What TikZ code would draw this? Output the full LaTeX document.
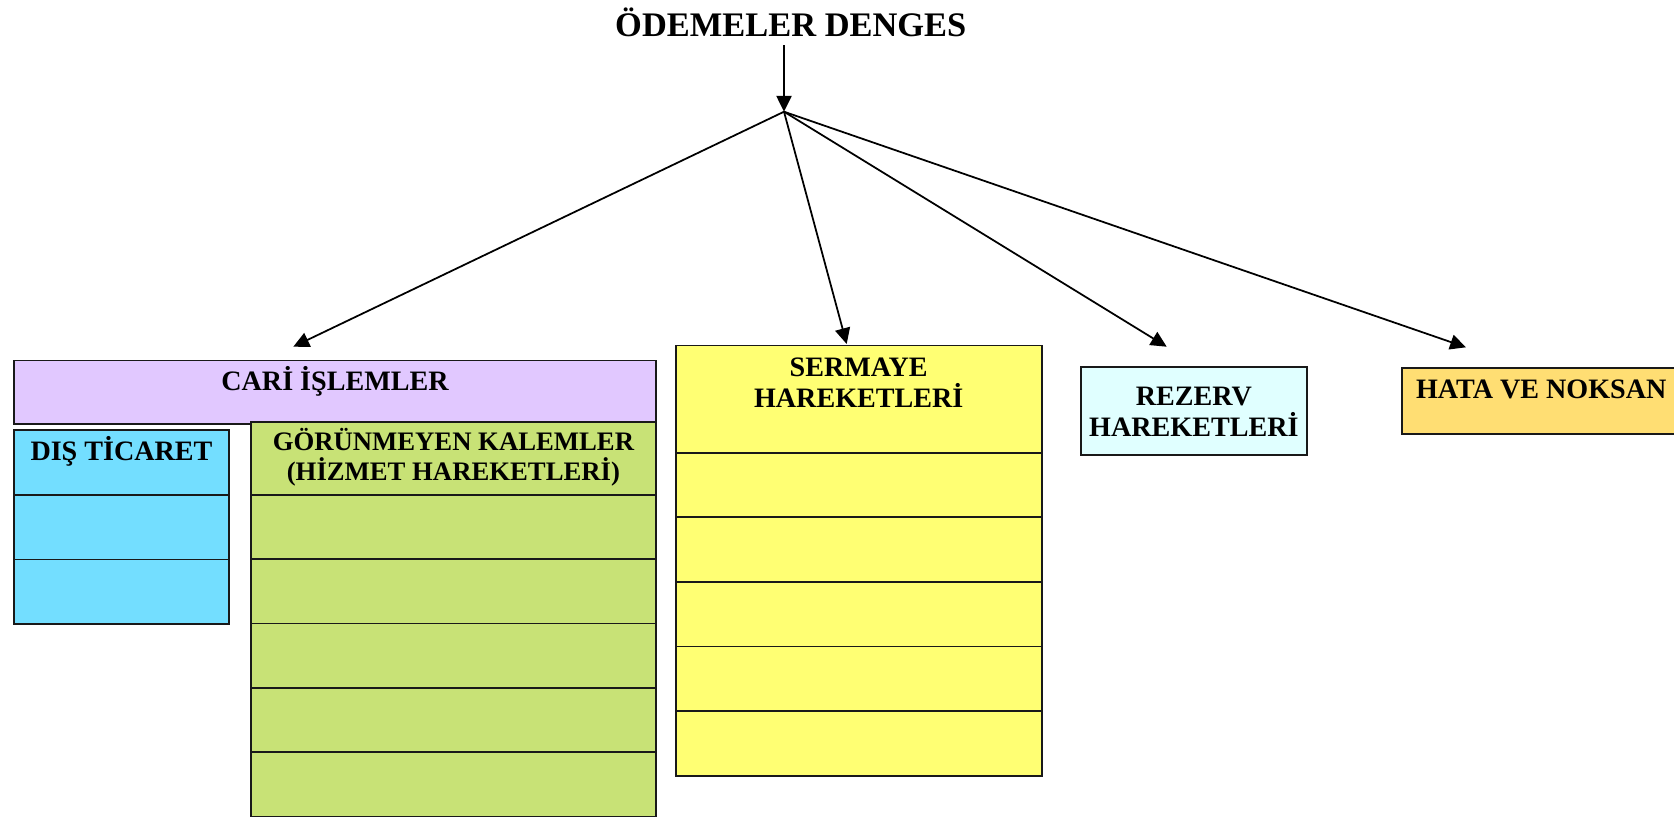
\documentclass[tikz,border=0pt]{standalone}
\usepackage{fontspec}
\setmainfont{Liberation Serif}
\usepackage{tikz}
\usetikzlibrary{arrows.meta,positioning}

\definecolor{cariC}{RGB}{225,200,255}
\definecolor{disC}{RGB}{115,222,255}
\definecolor{gorC}{RGB}{200,226,118}
\definecolor{serC}{RGB}{255,255,115}
\definecolor{rezC}{RGB}{224,255,255}
\definecolor{hataC}{RGB}{255,222,115}

\newcommand{\boxfont}{\fontsize{16}{17.5}\selectfont\bfseries}
\newcommand{\smallboxfont}{\fontsize{15.2}{17}\selectfont\bfseries}
\newcommand{\titlefont}{\fontsize{19.6}{22}\selectfont\bfseries}

\begin{document}
\begin{tikzpicture}[
  x=0.02cm, y=-0.02cm,
  cell/.style={draw=black!90, line width=1pt, inner sep=0pt, outer sep=0pt, anchor=north west},
  caricell/.style={cell, fill=cariC, minimum width=12.84cm, minimum height=1.27cm},
  discell/.style={cell, fill=disC, minimum width=4.294cm, minimum height=1.29cm},
  gorcell/.style={cell, fill=gorC, minimum width=8.106cm, minimum height=1.286cm},
  sercell/.style={cell, fill=serC, minimum width=7.32cm, minimum height=1.292cm},
  rezcell/.style={cell, fill=rezC, minimum width=4.514cm, minimum height=1.766cm},
  hatacell/.style={cell, fill=hataC, minimum width=5.966cm, minimum height=1.326cm},
  celltext/.style={font=\boxfont, align=center, inner sep=0pt, anchor=base},
  arr/.style={-{Triangle[length=9pt, width=8.6pt]}, line width=1pt},
  node distance=0pt,
]
\useasboundingbox (0,0) rectangle (1674,816);
\clip (0,0) rectangle (1674,816);

% ===== Title and branching =====
\node[font=\titlefont, inner sep=0pt, anchor=base] (odeme) at (790.8,36) {ÖDEMELER DENGES};
\coordinate (hub) at (784,111.7);
\coordinate (cariIn) at (293.3,346.7);
\coordinate (serIn) at (846.7,344);
\coordinate (rezIn) at (1166.7,346.7);
\coordinate (hataIn) at (1466,347.3);

% ===== CARI ISLEMLER =====
\node[caricell] (cari) at (14,360.5) {};
\node[celltext] (cariT) at (335,390) {CARİ İŞLEMLER};

\node[discell, minimum height=1.3cm] (dis0) at (14,430) {};
\node[discell, below=of dis0] (dis1) {};
\node[discell, below=of dis1] (dis2) {};
\node[celltext] (disT) at (121.5,460) {DIŞ TİCARET};

\node[gorcell, minimum height=1.46cm] (gor0) at (250.7,422) {};
\node[gorcell, below=of gor0] (gor1) {};
\node[gorcell, below=of gor1] (gor2) {};
\node[gorcell, below=of gor2] (gor3) {};
\node[gorcell, below=of gor3] (gor4) {};
\node[gorcell, below=of gor4] (gor5) {};
\node[celltext, font=\smallboxfont] (gorT) at (453.4,480) {GÖRÜNMEYEN KALEMLER\\(HİZMET HAREKETLERİ)};

% ===== SERMAYE HAREKETLERI =====
\node[sercell, minimum height=2.144cm] (ser0) at (675.7,345.5) {};
\node[sercell, below=of ser0] (ser1) {};
\node[sercell, below=of ser1] (ser2) {};
\node[sercell, below=of ser2] (ser3) {};
\node[sercell, below=of ser3] (ser4) {};
\node[sercell, below=of ser4] (ser5) {};
\node[celltext] (serT) at (858.7,407.3) {SERMAYE\\HAREKETLERİ};

% ===== REZERV / HATA =====
\node[rezcell] (rez) at (1081,366.7) {};
\node[celltext] (rezT) at (1193.9,436) {REZERV\\HAREKETLERİ};

\node[hatacell] (hata) at (1401.7,367.7) {};
\node[celltext, anchor=base west] (hataT) at (1415.7,398) {HATA VE NOKSAN};

% ===== Arrows =====
\draw[arr, shorten <=5pt] (odeme.south -| hub) -- (hub);
\draw[arr] (hub) -- (cariIn);
\draw[arr] (hub) -- (serIn);
\draw[arr] (hub) -- (rezIn);
\draw[arr] (hub) -- (hataIn);

\end{tikzpicture}
\end{document}
